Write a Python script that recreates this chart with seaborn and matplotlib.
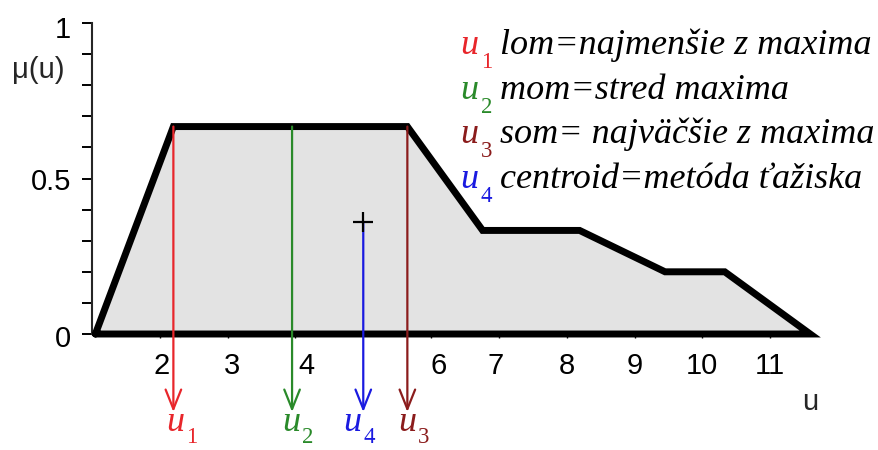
import matplotlib
matplotlib.use("Agg")
import matplotlib.pyplot as plt
import matplotlib.transforms as mtransforms
import pandas as pd
import seaborn as sns

# Aggregated output membership function mu(u)
u_pts = [1.05, 2.2, 5.65, 6.76, 8.19, 9.45, 10.33, 11.59]
mu_pts = [0.0, 0.667, 0.667, 0.333, 0.333, 0.2, 0.2, 0.0]

# Defuzzification results
method_idx = ["1", "2", "3", "4"]
method_u = [2.2, 3.95, 5.65, 5.0]
method_colors = ["#e8262b", "#2a8a2a", "#8b1c1c", "#1a1ae0"]
method_desc = ["lom=najmenšie z maxima", "mom=stred maxima",
               "som= najväčšie z maxima", "centroid=metóda ťažiska"]
plateau_mu = 0.667
centroid_mu = 0.36

x_ticks = [2, 3, 4, 6, 7, 8, 9, 10, 11]
y_ticks_major = [0, 0.5, 1]
y_ticks_minor = [0.1, 0.2, 0.3, 0.4, 0.6, 0.7, 0.8, 0.9]

sns.set_theme(style="ticks")
plt.rcParams["font.family"] = ["Liberation Sans", "DejaVu Sans"]

W, H = 879, 450
fig = plt.figure(figsize=(W / 100, H / 100), dpi=100)
ax = fig.add_axes([92 / W, 0, (838 - 92) / W, (H - 23) / H])
ax.set_xlim(1, 12)
ax.set_ylim(-116 / 311, 1)
ax.patch.set_alpha(0)

serif_it = dict(family="Liberation Serif", style="italic")
serif_up = dict(family="Liberation Serif")


def px(dx, dy=0):
    """Offset in screen pixels (y down)."""
    return mtransforms.ScaledTranslation(dx / 100, -dy / 100, fig.dpi_scale_trans)


# shaded area and outline of the membership function
ax.fill_between(u_pts, mu_pts, 0, color="#e3e3e3", lw=0, zorder=1)
outline = pd.DataFrame({"u": u_pts + [u_pts[0]], "mu": mu_pts + [mu_pts[0]]})
sns.lineplot(data=outline, x="u", y="mu", sort=False, estimator=None,
             color="black", lw=5, ax=ax, zorder=3,
             solid_joinstyle="miter", solid_capstyle="round")

# vertical arrows for each defuzzified value
tip_y = -78 / 311
label_y = -97 / 311
starts = [plateau_mu, plateau_mu, plateau_mu, centroid_mu]
label_shift = [-7, -10, -9, -20]
for u, top, col, idx, sh in zip(method_u, starts, method_colors, method_idx, label_shift):
    ax.annotate("", xy=(u, tip_y), xytext=(u, top),
                arrowprops=dict(arrowstyle="->,head_length=0.7,head_width=0.28",
                                color=col, lw=1.6, shrinkA=0, shrinkB=0,
                                mutation_scale=20),
                zorder=4, annotation_clip=False)
    ax.text(u, label_y, "u", color=col, fontsize=26, ha="left", va="baseline",
            transform=ax.transData + px(sh), clip_on=False, **serif_it)
    ax.text(u, label_y, idx, color=col, fontsize=16.5, ha="left", va="baseline",
            transform=ax.transData + px(sh + 20, 12), clip_on=False, **serif_up)

# centroid marker
ax.plot([method_u[3]], [centroid_mu], marker="+", ms=14, mew=1.6,
        color="black", zorder=5)

# axes styling
sns.despine(ax=ax)
ax.spines["left"].set_bounds(0, 1)
ax.spines["left"].set_linewidth(1.5)
ax.spines["bottom"].set_position(("data", 0))
ax.spines["bottom"].set_bounds(1, u_pts[-1])
ax.spines["bottom"].set_linewidth(1.0)
ax.set_xticks(x_ticks)
ax.set_xticklabels([str(t) for t in x_ticks])
ax.set_yticks(y_ticks_major)
ax.set_yticklabels(["0", "0.5", "1"])
ax.set_yticks(y_ticks_minor, minor=True)
ax.tick_params(axis="y", which="both", length=7, width=1.4, direction="out",
               labelsize=21, pad=8, colors="black")
ax.tick_params(axis="x", which="both", length=3, width=1.0, direction="out",
               labelsize=21, pad=10, colors="black")
ax.set_xlabel("")
ax.set_ylabel("")

# small nudges so labels clear the arrows
nudges = {"2": 2, "3": 4, "4": 11, "6": 8, "7": -3}
for lab in ax.get_xticklabels():
    d = nudges.get(lab.get_text(), 0)
    if d:
        lab.set_transform(lab.get_transform() + px(d))
for lab in ax.get_yticklabels():
    if lab.get_text() == "1":
        lab.set_transform(lab.get_transform() + px(0, 4))
    elif lab.get_text() == "0":
        lab.set_transform(lab.get_transform() + px(0, 2))

fig.text(12 / W, 1 - 70 / H, "μ(u)", fontsize=21, ha="left", va="center")
fig.text(810 / W, 1 - 402 / H, "u", fontsize=21, ha="center", va="center")

# method descriptions
for i, (idx, col, desc) in enumerate(zip(method_idx, method_colors, method_desc)):
    base = 54 + 44.7 * i
    fig.text(460 / W, 1 - base / H, "u", color=col, fontsize=26,
             ha="left", va="baseline", **serif_it)
    fig.text(481 / W, 1 - (base + 14) / H, idx, color=col, fontsize=16.5,
             ha="left", va="baseline", **serif_up)
    fig.text(500 / W, 1 - base / H, desc, color="black", fontsize=26,
             ha="left", va="baseline", **serif_it)

fig.savefig("out.png", dpi=100)
